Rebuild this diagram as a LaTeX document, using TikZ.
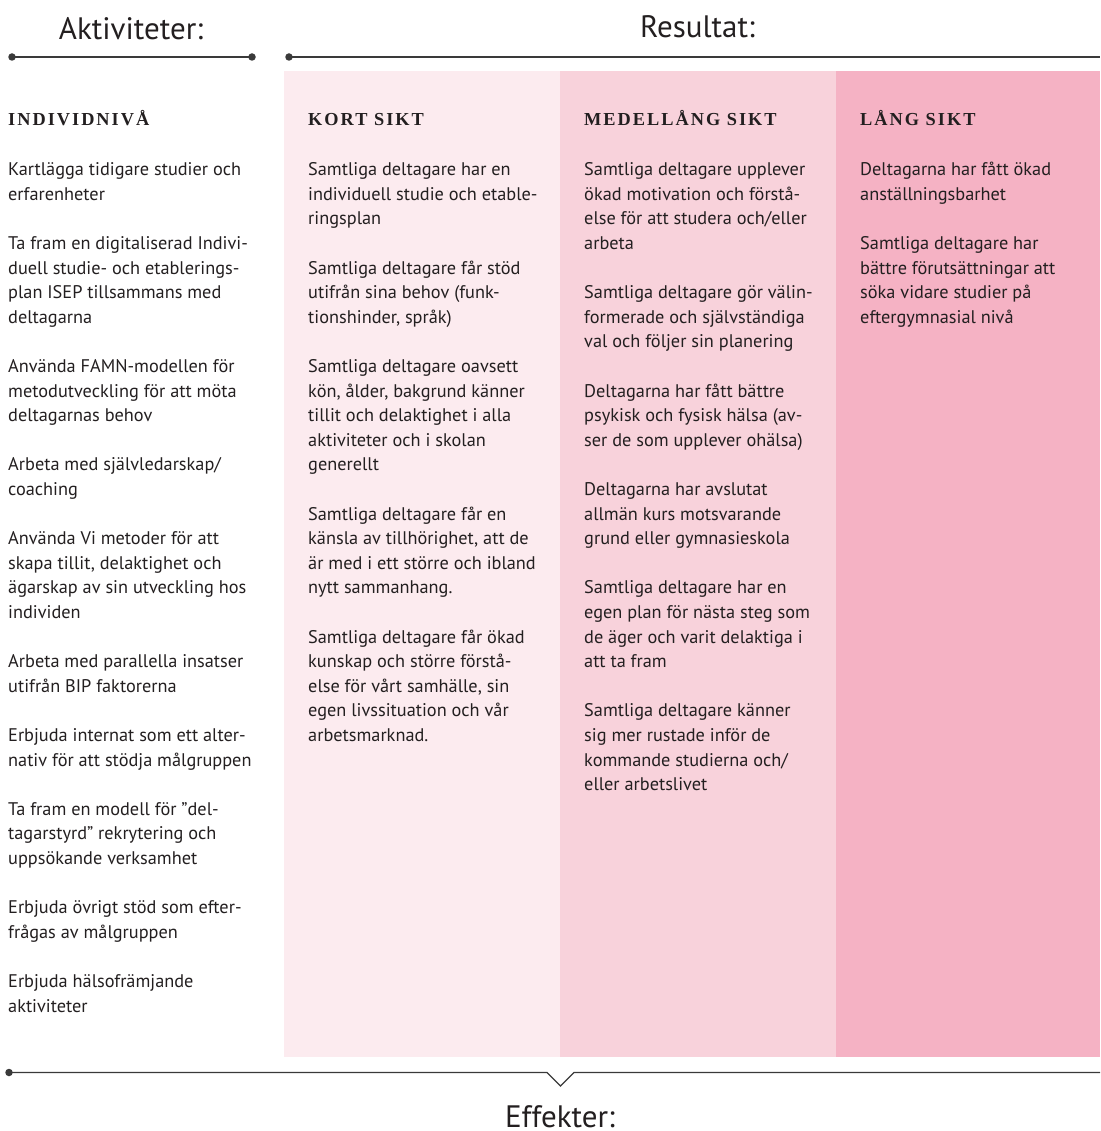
\documentclass[tikz,border=0pt]{standalone}
\usepackage{fontspec}
\setmainfont{PT Sans}
\newfontfamily\headfont{Liberation Serif}[LetterSpace=11]
\definecolor{ink}{HTML}{231F20}
\definecolor{rulecol}{HTML}{3A3A3A}
\definecolor{pinkA}{HTML}{FCEBEF}
\definecolor{pinkB}{HTML}{F8D2DB}
\definecolor{pinkC}{HTML}{F5B2C4}
\tikzset{
  body/.style={anchor=north west, inner sep=0pt, align=left, text=ink,
    font={\fontsize{18.3}{24.6}\selectfont}},
  colhead/.style={anchor=base west, inner sep=0pt, text=ink,
    font={\headfont\bfseries\fontsize{18.3}{20}\selectfont}},
  title/.style={anchor=base, inner sep=0pt, text=ink, text depth=0pt,
    font={\fontsize{31}{34}\selectfont}},
  rule/.style={draw=rulecol, line width=1.6pt},
  dot/.style={circle, fill=rulecol, inner sep=0pt, minimum size=7.5pt}
}
\begin{document}
\begin{tikzpicture}[x=1pt,y=1pt]
\useasboundingbox (0,0) rectangle (1100,-1131);
% column panels
\fill[pinkA] (284,-71) rectangle (560,-1057);
\fill[pinkB] (560,-71) rectangle (836,-1057);
\fill[pinkC] (836,-71) rectangle (1100,-1057);
% titles
\node[title] (tAkt) at (131,-40) {Aktiviteter:};
\node[title] (tRes) at (697.5,-38) {Resultat:};
\node[title] (tEff) at (560,-1127) {Effekter:};
% top rules
\node[dot] (a1) at (12,-57) {};
\node[dot] (a2) at (252,-57) {};
\node[dot] (r1) at (289,-57) {};
\coordinate (r2) at (1100,-57);
\draw[rule] (a1.center) -- (a2.center);
\draw[rule] (r1.center) -- (r2);
% bottom rule with notch
\node[dot] (b1) at (9,-1072.5) {};
\coordinate (n1) at (547,-1072.5);
\coordinate (n2) at (560.5,-1086);
\coordinate (n3) at (574,-1072.5);
\coordinate (b2) at (1100,-1072.5);
\draw[draw=rulecol, line width=1.2pt, line join=miter] (b1.center) -- (n1) -- (n2) -- (n3) -- (b2);
% column headings
\node[colhead] (hInd) at (8,-125.7) {INDIVIDNIVÅ};
\node[colhead] (hKort) at (308,-125.7) {KORT SIKT};
\node[colhead] (hMed) at (584,-125.7) {MEDELLÅNG SIKT};
\node[colhead] (hLang) at (860,-125.7) {LÅNG SIKT};
% left column: activities
\node[body] (i1) at (8,{-158.28-24.6*0}) {\strut Kartlägga tidigare studier och\\erfarenheter};
\node[body] (i2) at (8,{-158.28-24.6*3}) {\strut Ta fram en digitaliserad Indivi-\\duell studie- och etablerings-\\plan ISEP tillsammans med\\deltagarna};
\node[body] (i3) at (8,{-158.28-24.6*8}) {\strut Använda FAMN-modellen för\\metodutveckling för att möta\\deltagarnas behov};
\node[body] (i4) at (8,{-158.28-24.6*12}) {\strut Arbeta med självledarskap/\\coaching};
\node[body] (i5) at (8,{-158.28-24.6*15}) {\strut Använda Vi metoder för att\\skapa tillit, delaktighet och\\ägarskap av sin utveckling hos\\individen};
\node[body] (i6) at (8,{-158.28-24.6*20}) {\strut Arbeta med parallella insatser\\utifrån BIP faktorerna};
\node[body] (i7) at (8,{-158.28-24.6*23}) {\strut Erbjuda internat som ett alter-\\nativ för att stödja målgruppen};
\node[body] (i8) at (8,{-158.28-24.6*26}) {\strut Ta fram en modell för ”del-\\tagarstyrd” rekrytering och\\uppsökande verksamhet};
\node[body] (i9) at (8,{-158.28-24.6*30}) {\strut Erbjuda övrigt stöd som efter-\\frågas av målgruppen};
\node[body] (i10) at (8,{-158.28-24.6*33}) {\strut Erbjuda hälsofrämjande\\aktiviteter};
% short term
\node[body] (k1) at (308,{-158.28-24.6*0}) {\strut Samtliga deltagare har en\\individuell studie och etable-\\ringsplan};
\node[body] (k2) at (308,{-158.28-24.6*4}) {\strut Samtliga deltagare får stöd\\utifrån sina behov (funk-\\tionshinder, språk)};
\node[body] (k3) at (308,{-158.28-24.6*8}) {\strut Samtliga deltagare oavsett\\kön, ålder, bakgrund känner\\tillit och delaktighet i alla\\aktiviteter och i skolan\\generellt};
\node[body] (k4) at (308,{-158.28-24.6*14}) {\strut Samtliga deltagare får en\\känsla av tillhörighet, att de\\är med i ett större och ibland\\nytt sammanhang.};
\node[body] (k5) at (308,{-158.28-24.6*19}) {\strut Samtliga deltagare får ökad\\kunskap och större förstå-\\else för vårt samhälle, sin\\egen livssituation och vår\\arbetsmarknad.};
% medium term
\node[body] (m1) at (584,{-158.28-24.6*0}) {\strut Samtliga deltagare upplever\\ökad motivation och förstå-\\else för att studera och/eller\\arbeta};
\node[body] (m2) at (584,{-158.28-24.6*5}) {\strut Samtliga deltagare gör välin-\\formerade och självständiga\\val och följer sin planering};
\node[body] (m3) at (584,{-158.28-24.6*9}) {\strut Deltagarna har fått bättre\\psykisk och fysisk hälsa (av-\\ser de som upplever ohälsa)};
\node[body] (m4) at (584,{-158.28-24.6*13}) {\strut Deltagarna har avslutat\\allmän kurs motsvarande\\grund eller gymnasieskola};
\node[body] (m5) at (584,{-158.28-24.6*17}) {\strut Samtliga deltagare har en\\egen plan för nästa steg som\\de äger och varit delaktiga i\\att ta fram};
\node[body] (m6) at (584,{-158.28-24.6*22}) {\strut Samtliga deltagare känner\\sig mer rustade inför de\\kommande studierna och/\\eller arbetslivet};
% long term
\node[body] (l1) at (860,{-158.28-24.6*0}) {\strut Deltagarna har fått ökad\\anställningsbarhet};
\node[body] (l2) at (860,{-158.28-24.6*3}) {\strut Samtliga deltagare har\\bättre förutsättningar att\\söka vidare studier på\\eftergymnasial nivå};
\end{tikzpicture}
\end{document}
